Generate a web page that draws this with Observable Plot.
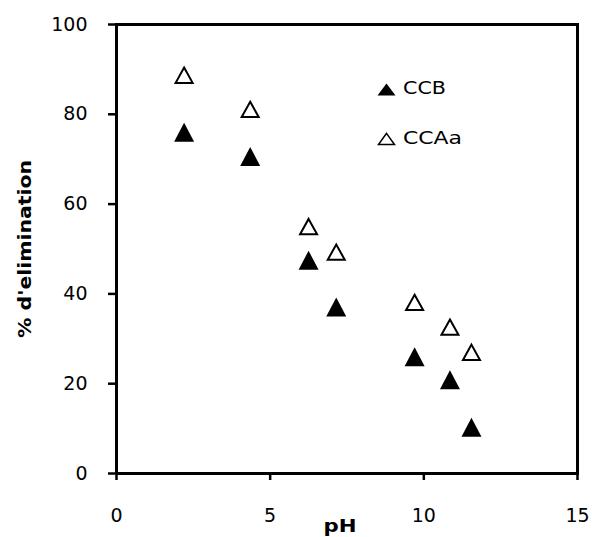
<!DOCTYPE html>
<html>
<head>
<meta charset="utf-8">
<script src="https://cdn.jsdelivr.net/npm/d3@7"></script>
<script src="https://cdn.jsdelivr.net/npm/@observablehq/plot@0.6"></script>
<style>
  body { margin: 0; background: #fff; }
  #chart { width: 592px; height: 537px; }
</style>
</head>
<body>
<div id="chart"></div>
<script>
// Removal percentage as a function of pH, for two sorbents
const pH   = [2.2, 4.35, 6.25, 7.15, 9.7, 10.85, 11.55];
const ccb  = [76, 70.6, 47.5, 37.1, 26, 20.9, 10.3];
const ccaa = [88.7, 81.1, 55, 49.3, 38.1, 32.6, 27];
const seriesNames = ["CCB", "CCAa"];
const xTicks = [0, 5, 10, 15];
const yTicks = [0, 20, 40, 60, 80, 100];
const xLabel = "pH";
const yLabel = "% d'elimination";

const rows = pH.flatMap((p, i) => [
  {pH: p, value: ccb[i], series: seriesNames[0]},
  {pH: p, value: ccaa[i], series: seriesNames[1]}
]);

// Isosceles triangle marker; aspect = half-height / half-width
function triangle(aspect) {
  return {
    draw(ctx, size) {
      const w = Math.sqrt(size) / 2, h = w * aspect;
      ctx.moveTo(0, -h);
      ctx.lineTo(w, h);
      ctx.lineTo(-w, h);
      ctx.closePath();
    }
  };
}
const rFor = (width) => Math.sqrt(width * width / Math.PI);

const font = "DejaVu Sans, Verdana, sans-serif";

const chart = Plot.plot({
  width: 592,
  height: 537,
  marginLeft: 116,
  marginRight: 15,
  marginTop: 24,
  marginBottom: 64,
  style: {fontFamily: font, fontSize: "19px", background: "#fff", color: "#000"},
  x: {domain: [0, 15]},
  y: {domain: [0, 100]},
  marks: [
    Plot.axisX({ticks: xTicks, tickSize: 7, tickPadding: 28, fontSize: 19, strokeWidth: 2.5, label: null}),
    Plot.axisY({ticks: yTicks, tickSize: 8, tickPadding: 21, fontSize: 19, strokeWidth: 2.5, label: null}),
    Plot.frame({stroke: "#000", strokeWidth: 3}),
    Plot.dot(rows.filter(d => d.series === seriesNames[1]), {
      x: "pH", y: "value", symbol: triangle(0.9), r: rFor(17),
      fill: "#fff", stroke: "#000", strokeWidth: 2
    }),
    Plot.dot(rows.filter(d => d.series === seriesNames[0]), {
      x: "pH", y: "value", symbol: triangle(0.95), r: rFor(20),
      fill: "#000", stroke: "none"
    }),
    // legend
    Plot.dot([seriesNames[0]], {frameAnchor: "top-left", dx: 270, dy: 65, symbol: triangle(0.66), r: rFor(18), fill: "#000", stroke: "none"}),
    Plot.dot([seriesNames[1]], {frameAnchor: "top-left", dx: 270, dy: 114.5, symbol: triangle(0.7), r: rFor(16), fill: "#fff", stroke: "#000", strokeWidth: 1.5}),
    Plot.text([seriesNames[0]], {text: d => d, frameAnchor: "top-left", dx: 286.5, dy: 64.5, textAnchor: "start", lineAnchor: "middle", fontSize: 17}),
    Plot.text([seriesNames[1]], {text: d => d, frameAnchor: "top-left", dx: 286.5, dy: 114.5, textAnchor: "start", lineAnchor: "middle", fontSize: 17}),
    // axis titles
    Plot.text([xLabel], {text: d => d, frameAnchor: "bottom", dx: -7, dy: 53.5, lineAnchor: "middle", fontWeight: "bold", fontSize: 17}),
    Plot.text([yLabel], {text: d => d, frameAnchor: "left", dx: -91, rotate: -90, textAnchor: "middle", lineAnchor: "middle", fontWeight: "bold", fontSize: 18})
  ]
});

// widen the word labels to their drawn lengths
const widths = {"CCB": 43, "CCAa": 59, "pH": 33, "% d'elimination": 178};
d3.select(chart).selectAll("text").each(function () {
  const w = widths[this.textContent];
  if (w) d3.select(this).attr("textLength", w).attr("lengthAdjust", "spacingAndGlyphs");
});

document.getElementById("chart").appendChild(chart);
</script>
</body>
</html>
